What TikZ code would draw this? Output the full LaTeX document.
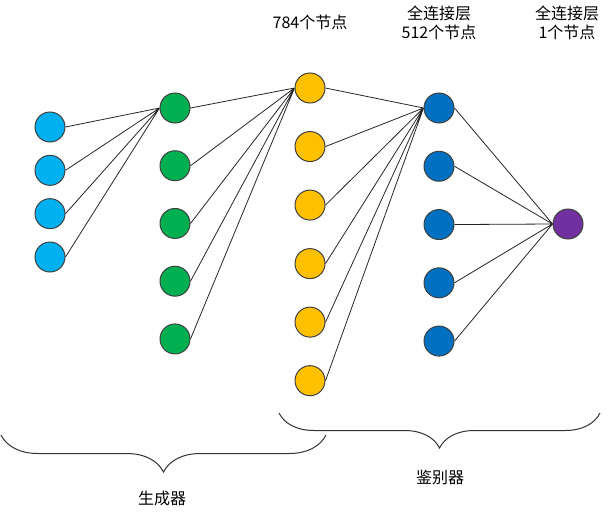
\documentclass[tikz,border=0pt]{standalone}
\usepackage{fontspec}
\setmainfont{Noto Sans CJK SC}
\usetikzlibrary{positioning,decorations.pathreplacing}
\definecolor{noisecol}{HTML}{00B0F0}
\definecolor{gencol}{HTML}{00B050}
\definecolor{imgcol}{HTML}{FFC000}
\definecolor{fccol}{HTML}{0070C0}
\definecolor{outcol}{HTML}{7030A0}
\tikzset{
    neuron/.style={circle,draw=black!75,line width=0.75pt,minimum size=22.5pt,inner sep=0pt},
    link/.style={black!85,line width=0.6pt},
    groupbrace/.style={decorate,decoration={brace,mirror,amplitude=#1},black!80,line width=0.75pt},
    lbl/.style={font=\fontsize{12pt}{14.25pt}\selectfont,align=center}
}

\begin{document}
\begin{tikzpicture}[x=0.75pt,y=-0.75pt,on grid]
        \useasboundingbox (0,0) rectangle (609,514);
        % noise input
        \node[neuron,fill=noisecol] (a1) at (50,127) {};
        \node[neuron,fill=noisecol,below=32.5pt of a1] (a2) {};
        \node[neuron,fill=noisecol,below=32.5pt of a2] (a3) {};
        \node[neuron,fill=noisecol,below=32.5pt of a3] (a4) {};
        % generator hidden layer
        \node[neuron,fill=gencol] (b1) at (175,108) {};
        \node[neuron,fill=gencol,below=43.3pt of b1] (b2) {};
        \node[neuron,fill=gencol,below=43.3pt of b2] (b3) {};
        \node[neuron,fill=gencol,below=43.3pt of b3] (b4) {};
        \node[neuron,fill=gencol,below=43.3pt of b4] (b5) {};
        % 784 nodes
        \node[neuron,fill=imgcol] (c1) at (310,88) {};
        \node[neuron,fill=imgcol,below=43.9pt of c1] (c2) {};
        \node[neuron,fill=imgcol,below=43.9pt of c2] (c3) {};
        \node[neuron,fill=imgcol,below=43.9pt of c3] (c4) {};
        \node[neuron,fill=imgcol,below=43.9pt of c4] (c5) {};
        \node[neuron,fill=imgcol,below=43.9pt of c5] (c6) {};
        % 512 nodes
        \node[neuron,fill=fccol] (d1) at (439,108) {};
        \node[neuron,fill=fccol,below=43.7pt of d1] (d2) {};
        \node[neuron,fill=fccol,below=43.7pt of d2] (d3) {};
        \node[neuron,fill=fccol,below=43.7pt of d3] (d4) {};
        \node[neuron,fill=fccol,below=43.7pt of d4] (d5) {};
        % output
        \node[neuron,fill=outcol] (e) at (568,224) {};

        \node[lbl] (t1) at (310,22) {784个节点};
        \node[lbl] (t2) at (439,22.5) {全连接层\\512个节点};
        \node[lbl] (t3) at (567,22.5) {全连接层\\1个节点};

        \draw[link]
            (a1.east) -- (b1.west)
            (a2.east) -- (b1.west)
            (a3.east) -- (b1.west)
            (a4.east) -- (b1.west)
            (b1.east) -- (c1.west)
            (b2.east) -- (c1.west)
            (b3.east) -- (c1.west)
            (b4.east) -- (c1.west)
            (b5.east) -- (c1.west)
            (c1.east) -- (d1.west)
            (c2.east) -- (d1.west)
            (c3.east) -- (d1.west)
            (c4.east) -- (d1.west)
            (c5.east) -- (d1.west)
            (c6.east) -- (d1.west)
            (d1.east) -- (e.west)
            (d2.east) -- (e.west)
            (d3.east) -- (e.west)
            (d4.east) -- (e.west)
            (d5.east) -- (e.west);

        % braces
        \coordinate (gl) at (1,435);
        \coordinate (gr) at (326,435);
        \draw[groupbrace=27.75pt] (gl) -- (gr);
        \node[lbl] (gen) at (162,498) {生成器};
        \coordinate (dl) at (279,413);
        \coordinate (dr) at (600,413);
        \draw[groupbrace=26.25pt] (dl) -- (dr);
        \node[lbl] (dis) at (440,477) {鉴别器};
\end{tikzpicture}
\end{document}
